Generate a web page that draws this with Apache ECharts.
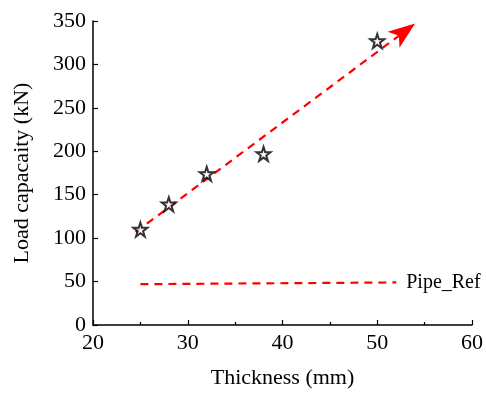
<!DOCTYPE html>
<html>
<head>
<meta charset="utf-8">
<script src="https://cdn.jsdelivr.net/npm/echarts@6/dist/echarts.min.js"></script>
<style>
  html, body { margin: 0; padding: 0; background: #fff; }
  #chart { width: 486px; height: 394px; }
</style>
</head>
<body>
<div id="chart"></div>
<script>
// measured points
const thickness = [25, 28, 32, 38, 50];
const loadCap = [110, 139, 174, 197, 327];
// trend arrow (start, tip)
const trendX = [24.5, 54];
const trendY = [107, 347];
// reference pipe line
const refX = [25, 52];
const refY = [47, 49];
const xTicks = [20, 30, 40, 50, 60];
const yTicks = [0, 50, 100, 150, 200, 250, 300, 350];

const FONT = "'Liberation Serif', 'Times New Roman', serif";
const STAR = "path://M50,0 L61.8,35.4 L99,35.4 L69,57.3 L80.4,92.7 L50,70.8 L19.6,92.7 L31,57.3 L1,35.4 L38.2,35.4 Z";

const chart = echarts.init(document.getElementById("chart"));

const axisCommon = {
  axisLine: { show: true, lineStyle: { color: "#000", width: 1.5 } },
  axisTick: { show: true, inside: true, length: 5, lineStyle: { color: "#000", width: 1.2 } },
  splitLine: { show: false },
  nameLocation: "middle",
  nameTextStyle: { fontFamily: FONT, fontSize: 22, color: "#000" },
};

chart.setOption({
  animation: false,
  backgroundColor: "#fff",
  grid: { left: 93, right: 12, top: 21, bottom: 67 },
  xAxis: Object.assign({}, axisCommon, {
    type: "value",
    min: xTicks[0],
    max: xTicks[xTicks.length - 1],
    interval: 10,
    name: "Thickness (mm)",
    nameGap: 42,
    minorTick: { show: true, splitNumber: 2, length: 3, lineStyle: { color: "#000", width: 1.2 } },
    axisLabel: { fontFamily: FONT, fontSize: 22, color: "#000", margin: 7 },
  }),
  yAxis: Object.assign({}, axisCommon, {
    type: "value",
    min: yTicks[0],
    max: yTicks[yTicks.length - 1],
    interval: 50,
    name: "Load capacaity (kN)",
    nameGap: 60,
    axisLabel: { fontFamily: FONT, fontSize: 22, color: "#000", margin: 7 },
  }),
  series: [
    {
      type: "line",
      data: [],
      markLine: {
        silent: true,
        symbol: ["none", "arrow"],
        symbolSize: [15, 27],
        label: { show: false },
        lineStyle: { color: "#ff0000", width: 2.2, type: [8, 6] },
        data: [[
          { coord: [trendX[0], trendY[0]] },
          { coord: [trendX[1], trendY[1]] },
        ]],
      },
    },
    {
      type: "line",
      data: refX.map((x, i) => [x, refY[i]]),
      showSymbol: false,
      symbol: "none",
      lineStyle: { color: "#ff0000", width: 2.2, type: [8, 6] },
      endLabel: {
        show: true,
        formatter: "Pipe_Ref",
        fontFamily: FONT,
        fontSize: 20,
        color: "#000",
        distance: 10,
      },
    },
    {
      type: "scatter",
      data: thickness.map((x, i) => [x, loadCap[i]]),
      symbol: STAR,
      symbolSize: 14,
      itemStyle: { color: "#fff", borderColor: "#000", borderWidth: 2 },
      z: 5,
    },
  ],
});
</script>
</body>
</html>
